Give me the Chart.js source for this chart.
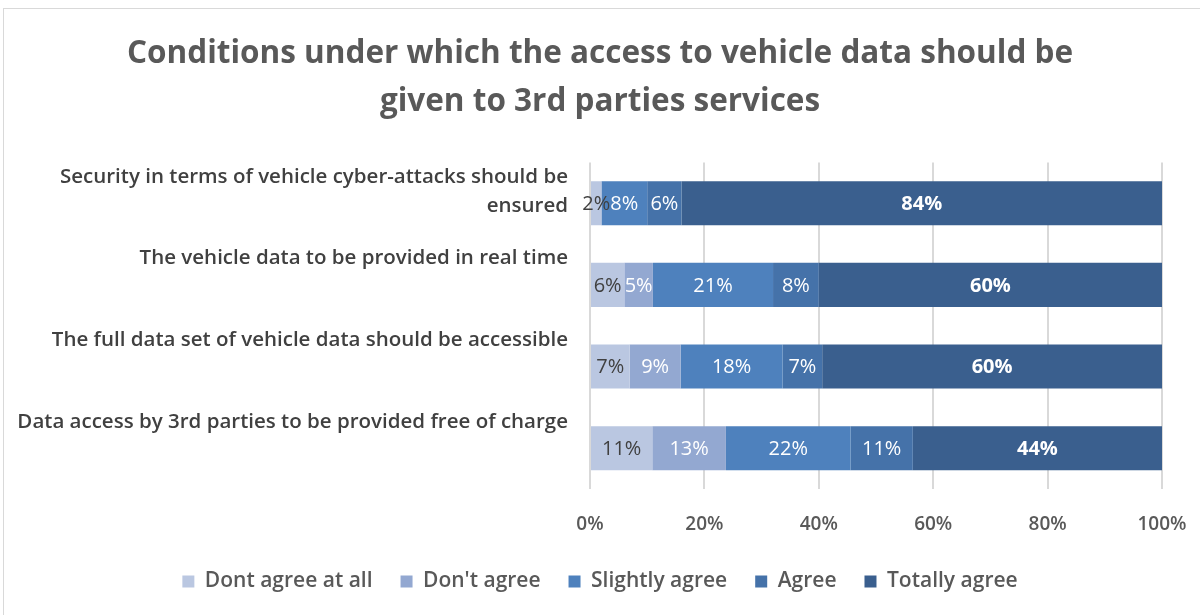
<html lang="en">
<head>
    <meta charset="UTF-8">
    <title>Vehicle data access conditions</title>
    <script src="https://cdn.jsdelivr.net/npm/chart.js@4.4.1/dist/chart.umd.min.js"></script>
    <style>
        body { margin: 0; background: #fff; }
        .frame { position: absolute; left: 3px; top: 8px; width: 1300px; height: 700px; border-left: 1px solid #d9d9d9; border-top: 1px solid #d9d9d9; }
        .chart-box { position: absolute; left: 0; top: 0; width: 1200px; height: 615px; }
    </style>
</head>
<body>
    <div class="frame"></div>
    <div class="chart-box"><canvas id="myChart" width="1200" height="615"></canvas></div>

    <script>
        const categories = [
            ['Security in terms of vehicle cyber-attacks should be', 'ensured'],
            ['The vehicle data to be provided in real time'],
            ['The full data set of vehicle data should be accessible'],
            ['Data access by 3rd parties to be provided free of charge']
        ];
        const seriesNames = ['Dont agree at all', "Don't agree", 'Slightly agree', 'Agree', 'Totally agree'];
        const dontAgreeAtAll = [2, 6, 7, 11];
        const dontAgree = [0, 5, 9, 13];
        const slightlyAgree = [8, 21, 18, 22];
        const agree = [6, 8, 7, 11];
        const totallyAgree = [84, 60, 60, 44];
        const xTicks = [0, 20, 40, 60, 80, 100];
        const colors = ['#BAC7E1', '#93A8D1', '#4E81BD', '#4572A9', '#3A5F8E'];

        const raw = [dontAgreeAtAll, dontAgree, slightlyAgree, agree, totallyAgree];
        // rows add up to 101 in places, excel scales them to 100%
        const rowSums = categories.map((c, i) => raw.reduce((s, arr) => s + arr[i], 0));
        const FONT = '"Open Sans"';

        const barLabels = {
            id: 'barLabels',
            afterDatasetsDraw(chart) {
                const ctx = chart.ctx;
                ctx.save();
                ctx.textAlign = 'center';
                ctx.textBaseline = 'middle';
                chart.data.datasets.forEach((ds, di) => {
                    chart.getDatasetMeta(di).data.forEach((bar, i) => {
                        const v = raw[di][i];
                        if (!v) return;
                        ctx.font = (di === 4 ? 'bold ' : '') + '20px ' + FONT;
                        ctx.fillStyle = di === 0 ? '#404040' : '#ffffff';
                        ctx.fillText(v + '%', (bar.x + bar.base) / 2, bar.y + 1);
                    });
                });
                ctx.restore();
            }
        };

        let myChart = new Chart(document.getElementById('myChart'), {
            type: 'bar',
            data: {
                labels: categories,
                datasets: seriesNames.map((name, di) => ({
                    label: name,
                    data: raw[di].map((v, i) => v * 100 / rowSums[i]),
                    backgroundColor: colors[di],
                    borderWidth: 0,
                    barPercentage: 0.54,
                    categoryPercentage: 1
                }))
            },
            options: {
                indexAxis: 'y',
                responsive: false,
                animation: false,
                layout: { padding: { left: 0, right: 0, top: 30, bottom: 13 } },
                plugins: {
                    title: {
                        display: true,
                        text: ['Conditions under which the access to vehicle data should be', 'given to 3rd parties services'],
                        color: '#595959',
                        font: { family: FONT, size: 31.5, weight: 'bold', lineHeight: 1.53 },
                        padding: { top: 0, bottom: 36 }
                    },
                    legend: {
                        position: 'bottom',
                        labels: {
                            color: '#595959',
                            font: { family: FONT, size: 21, weight: '600' },
                            boxWidth: 12,
                            boxHeight: 12,
                            padding: 28
                        }
                    },
                    tooltip: { enabled: false }
                },
                scales: {
                    x: {
                        stacked: true,
                        min: 0,
                        max: 100,
                        afterBuildTicks: (scale) => { scale.ticks = xTicks.map(v => ({ value: v })); },
                        // keep 100% at x=1162, title stays centred on the page
                        afterFit: (scale) => { scale.height = 54; scale.paddingRight = 38; },
                        ticks: {
                            callback: (v) => v + '%',
                            color: '#595959',
                            font: { family: FONT, size: 19, weight: '600' },
                            padding: 24
                        },
                        grid: { color: '#d9d9d9', lineWidth: 2, drawTicks: false },
                        border: { display: false }
                    },
                    y: {
                        stacked: true,
                        afterFit: (scale) => { scale.width = 590; },
                        ticks: {
                            callback: function (v, i) {
                                const l = categories[i];
                                return l.length > 1 ? l : [l[0], ''];
                            },
                            color: '#404040',
                            font: { family: FONT, size: 20.5, weight: '600', lineHeight: 1.41 },
                            labelOffset: -12,
                            padding: 14
                        },
                        grid: { display: false },
                        border: { display: false }
                    }
                }
            },
            plugins: [barLabels]
        });
    </script>
</body>
</html>
